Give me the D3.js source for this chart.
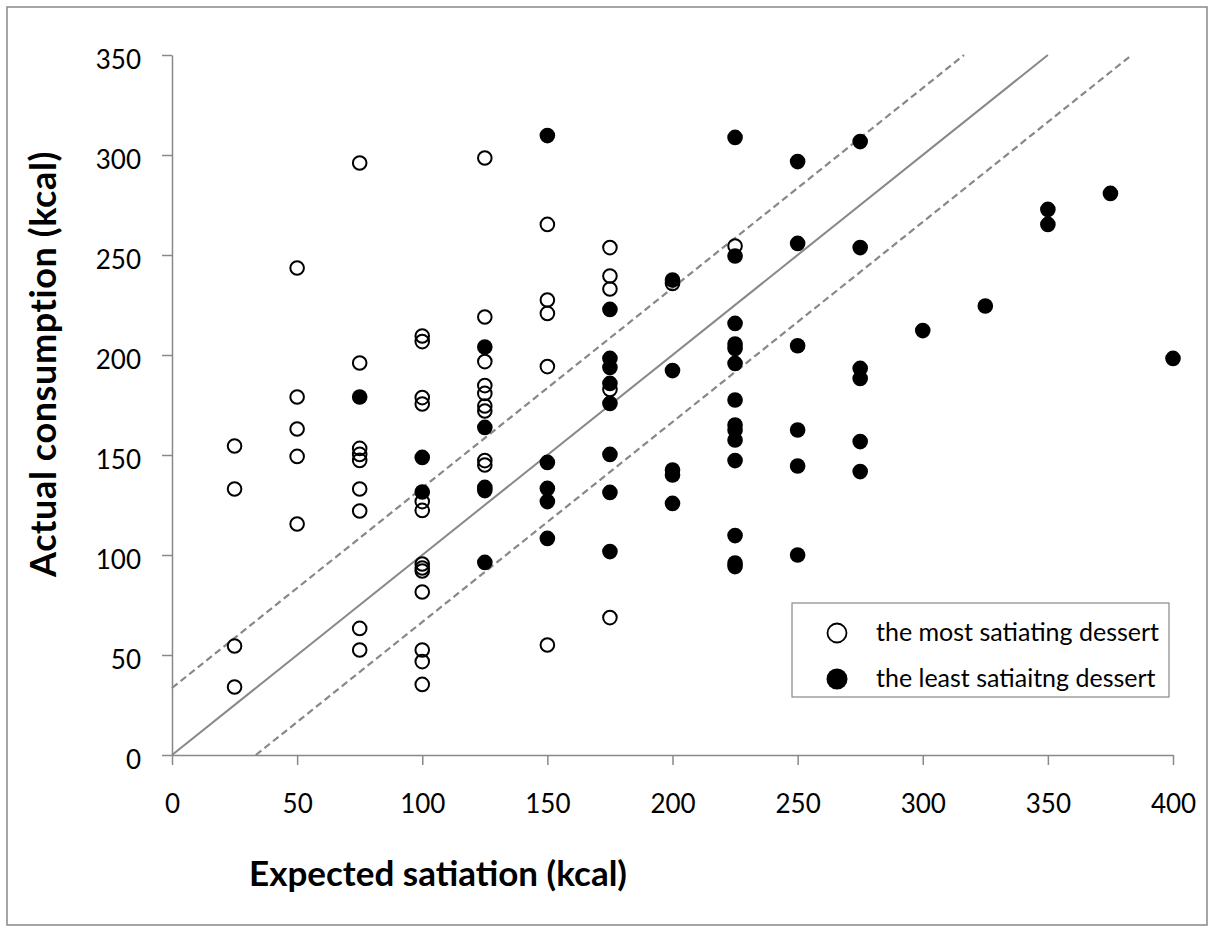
<!DOCTYPE html>
<html>
<head>
<meta charset="utf-8">
<script src="https://cdn.jsdelivr.net/npm/d3@7"></script>
<style>
  body { margin: 0; background: #fff; }
  text { font-family: Lato, "Open Sans", sans-serif; }
</style>
</head>
<body>
<div id="viz"></div>
<script>
// the most satiating dessert (open circles)
var mostExpected = [25, 25, 25, 25,
  50, 50, 50, 50, 50,
  75, 75, 75, 75, 75, 75, 75, 75, 75,
  100, 100, 100, 100, 100, 100, 100, 100, 100, 100, 100, 100, 100,
  125, 125, 125, 125, 125, 125, 125, 125, 125,
  150, 150, 150, 150, 150,
  175, 175, 175, 175, 175,
  200, 225];
var mostActual = [154.5, 133, 54.5, 34,
  243.5, 179, 163, 149.3, 115.5,
  296, 196, 153.3, 150.3, 147.3, 133, 122, 63.3, 52.5,
  209.5, 206.7, 178.7, 175.5, 126.7, 122.3, 95.5, 93.5, 92, 81.5, 52.5, 46.7, 35.3,
  298.5, 219, 196.7, 184.7, 180.8, 174.5, 172, 147.2, 145,
  265.3, 227.5, 220.8, 194.2, 55,
  253.7, 239.5, 233, 182.8, 68.7,
  235.8, 254.5];

// the least satiating dessert (filled circles)
var leastExpected = [75,
  100, 100,
  125, 125, 125, 125, 125,
  150, 150, 150, 150, 150,
  175, 175, 175, 175, 175, 175, 175, 175,
  200, 200, 200, 200, 200,
  225, 225, 225, 225, 225, 225, 225, 225, 225, 225, 225, 225, 225, 225,
  250, 250, 250, 250, 250, 250,
  275, 275, 275, 275, 275, 275,
  300, 325, 350, 350, 375, 400];
var leastActual = [179,
  148.8, 131.5,
  204, 163.8, 133.8, 132.2, 96.3,
  309.7, 146.3, 133.3, 126.7, 108.3,
  222.8, 198.3, 193.8, 185.8, 175.8, 150.3, 131.3, 101.7,
  237.5, 192.2, 142.5, 140, 125.8,
  308.8, 249.5, 215.8, 205.5, 203.3, 195.8, 177.5, 165, 162.5, 157.5, 147.2, 109.7, 96, 94.2,
  296.7, 255.8, 204.6, 162.5, 144.5, 100,
  306.7, 253.7, 193.3, 188.3, 156.7, 141.7,
  212.2, 224.5, 272.8, 265.3, 280.8, 198.3];

// identity line and +/- band
var lineOffsets = [0, 33.5, -33.5];
var xTicks = [0, 50, 100, 150, 200, 250, 300, 350, 400];
var yTicks = [0, 50, 100, 150, 200, 250, 300, 350];
var legendLabels = ["the most satiating dessert", "the least satiaitng dessert"];

var width = 1215, height = 927;
var plotLeft = 172, plotRight = 1173, plotTop = 55, plotBottom = 755;
var grey = "#888888";

var x = d3.scaleLinear().domain([0, 400]).range([plotLeft, plotRight]);
var y = d3.scaleLinear().domain([0, 350]).range([plotBottom, plotTop]);

var svg = d3.select("#viz").append("svg")
  .attr("width", width)
  .attr("height", height);

// outer frame
svg.append("rect")
  .attr("x", 7).attr("y", 7)
  .attr("width", 1200).attr("height", 918)
  .attr("fill", "none")
  .attr("stroke", grey)
  .attr("stroke-width", 1.5);

// reference lines, clipped to the plot domain
var lines = lineOffsets.map(function(o) {
  var x0 = Math.max(0, -o), x1 = Math.min(400, 350 - o);
  return {off: o, x0: x0, y0: x0 + o, x1: x1, y1: x1 + o};
});

svg.selectAll("line.ref")
  .data(lines)
  .enter().append("line")
  .attr("class", "ref")
  .attr("x1", function(d) { return x(d.x0); })
  .attr("y1", function(d) { return y(d.y0); })
  .attr("x2", function(d) { return x(d.x1); })
  .attr("y2", function(d) { return y(d.y1); })
  .attr("stroke", grey)
  .attr("stroke-width", function(d) { return d.off == 0 ? 2 : 2.2; })
  .attr("stroke-dasharray", function(d) { return d.off == 0 ? null : "7,4"; });

// axes
var xAxis = svg.append("g")
  .attr("transform", "translate(0," + plotBottom + ")")
  .call(d3.axisBottom(x).tickValues(xTicks).tickSizeInner(10).tickSizeOuter(0).tickPadding(30));
var yAxis = svg.append("g")
  .attr("transform", "translate(" + plotLeft + ",0)")
  .call(d3.axisLeft(y).tickValues(yTicks).tickSizeInner(10).tickSizeOuter(0).tickPadding(21));

[xAxis, yAxis].forEach(function(g) {
  g.select(".domain").attr("stroke", grey).attr("stroke-width", 1.5);
  g.selectAll(".tick line").attr("stroke", grey).attr("stroke-width", 1.5);
  g.selectAll(".tick text")
    .attr("fill", "#000")
    .style("font-size", "26px")
    .style("font-family", "Lato, sans-serif");
});
yAxis.selectAll(".tick text").attr("dy", "0.52em");

// points
svg.selectAll("circle.most")
  .data(mostExpected)
  .enter().append("circle")
  .attr("class", "most")
  .attr("cx", function(d) { return x(d); })
  .attr("cy", function(d, i) { return y(mostActual[i]); })
  .attr("r", 6.8)
  .attr("fill", "none")
  .attr("stroke", "#000")
  .attr("stroke-width", 2);

svg.selectAll("circle.least")
  .data(leastExpected)
  .enter().append("circle")
  .attr("class", "least")
  .attr("cx", function(d) { return x(d); })
  .attr("cy", function(d, i) { return y(leastActual[i]); })
  .attr("r", 7.8)
  .attr("fill", "#000");

// axis titles
svg.append("text")
  .attr("x", 438).attr("y", 886)
  .attr("text-anchor", "middle")
  .style("font-size", "35px")
  .style("font-weight", "bold")
  .text("Expected satiation (kcal)");

svg.append("text")
  .attr("transform", "translate(56,364) rotate(-90)")
  .attr("text-anchor", "middle")
  .style("font-size", "36px")
  .style("font-weight", "bold")
  .style("letter-spacing", "0.6px")
  .text("Actual consumption (kcal)");

// legend
var legend = svg.append("g");
legend.append("rect")
  .attr("x", 792).attr("y", 603)
  .attr("width", 377).attr("height", 94)
  .attr("fill", "#fff")
  .attr("stroke", grey)
  .attr("stroke-width", 1.2);

var items = legend.selectAll("g.item")
  .data(legendLabels)
  .enter().append("g")
  .attr("class", "item")
  .attr("transform", function(d, i) { return "translate(837," + (633 + i * 46) + ")"; });

items.append("circle")
  .attr("r", function(d, i) { return i == 0 ? 9.5 : 10.5; })
  .attr("fill", function(d, i) { return i == 0 ? "none" : "#000"; })
  .attr("stroke", function(d, i) { return i == 0 ? "#000" : null; })
  .attr("stroke-width", 1.8);

items.append("text")
  .attr("x", 39).attr("y", 8)
  .style("font-size", "25px")
  .text(function(d) { return d; });
</script>
</body>
</html>
